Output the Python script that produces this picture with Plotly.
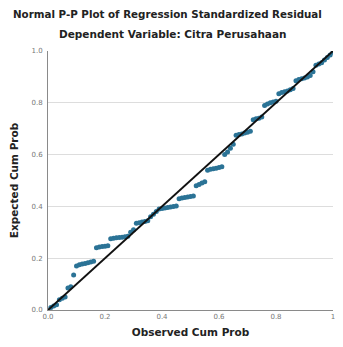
import plotly.graph_objects as go

observed = [0.01, 0.02, 0.03, 0.04, 0.05, 0.06, 0.07, 0.08, 0.09, 0.10,
            0.11, 0.12, 0.13, 0.14, 0.15, 0.16, 0.17, 0.18, 0.19, 0.20,
            0.21, 0.22, 0.23, 0.24, 0.25, 0.26, 0.27, 0.28, 0.29, 0.30,
            0.31, 0.32, 0.33, 0.34, 0.35, 0.36, 0.37, 0.38, 0.39, 0.40,
            0.41, 0.42, 0.43, 0.44, 0.45, 0.46, 0.47, 0.48, 0.49, 0.50,
            0.51, 0.52, 0.53, 0.54, 0.55, 0.56, 0.57, 0.58, 0.59, 0.60,
            0.61, 0.62, 0.63, 0.64, 0.65, 0.66, 0.67, 0.68, 0.69, 0.70,
            0.71, 0.72, 0.73, 0.74, 0.75, 0.76, 0.77, 0.78, 0.79, 0.80,
            0.81, 0.82, 0.83, 0.84, 0.85, 0.86, 0.87, 0.88, 0.89, 0.90,
            0.91, 0.92, 0.93, 0.94, 0.95, 0.96, 0.97, 0.98, 0.99, 1.00]
expected = [0.010, 0.015, 0.020, 0.040, 0.045, 0.050, 0.085, 0.090, 0.135, 0.170,
            0.175, 0.178, 0.180, 0.182, 0.185, 0.188, 0.240, 0.243, 0.245, 0.246,
            0.248, 0.275, 0.277, 0.279, 0.280, 0.281, 0.283, 0.285, 0.300, 0.310,
            0.335, 0.337, 0.340, 0.342, 0.345, 0.360, 0.370, 0.380, 0.390, 0.392,
            0.394, 0.396, 0.398, 0.400, 0.402, 0.430, 0.432, 0.434, 0.436, 0.438,
            0.440, 0.480, 0.485, 0.490, 0.495, 0.540, 0.543, 0.545, 0.547, 0.550,
            0.553, 0.600, 0.610, 0.625, 0.640, 0.675, 0.678, 0.680, 0.683, 0.686,
            0.690, 0.735, 0.738, 0.740, 0.745, 0.790, 0.795, 0.800, 0.803, 0.806,
            0.835, 0.840, 0.843, 0.846, 0.850, 0.855, 0.885, 0.890, 0.893, 0.896,
            0.900, 0.905, 0.920, 0.945, 0.950, 0.955, 0.965, 0.975, 0.985, 0.995]
ref_line = [0.0, 1.0]
x_ticks = [0.0, 0.2, 0.4, 0.6, 0.8, 1.0]
x_tick_labels = ["0.0", "0.2", "0.4", "0.6", "0.8", "1"]
y_ticks = [0.0, 0.2, 0.4, 0.6, 0.8, 1.0]
y_tick_labels = ["0.0", "0.2", "0.4", "0.6", "0.8", "1.0"]

FONT = "DejaVu Sans, Arial, sans-serif"

fig = go.Figure()
fig.add_trace(go.Scatter(x=observed, y=expected, mode="markers",
                         marker=dict(size=5, color="#2b7396"),
                         showlegend=False))
fig.add_trace(go.Scatter(x=ref_line, y=ref_line, mode="lines",
                         line=dict(color="#111111", width=2),
                         showlegend=False))

# page has an 8px body margin, so the figure is drawn smaller and shifted
fig.update_layout(
    width=327, height=331,
    margin=dict(l=40, r=0, t=43, b=29),
    paper_bgcolor="white", plot_bgcolor="white",
    font=dict(family=FONT, color="#222222"),
)
fig.add_annotation(text="<b>Normal P-P Plot of Regression Standardized Residual</b>",
                   xref="paper", yref="paper", x=0.42, y=1.0, yshift=37,
                   showarrow=False, font=dict(size=10.3, color="#222222", family=FONT),
                   xanchor="center", yanchor="middle")
fig.add_annotation(text="<b>Dependent Variable: Citra Perusahaan</b>",
                   xref="paper", yref="paper", x=0.44, y=1.0, yshift=17,
                   showarrow=False, font=dict(size=10.5, color="#222222", family=FONT),
                   xanchor="center", yanchor="middle")

fig.update_xaxes(range=[0, 1.0], tickvals=x_ticks, ticktext=x_tick_labels,
                 showgrid=False, zeroline=False, showline=True,
                 linecolor="#8a8a8a", linewidth=1, ticks="", ticklen=0,
                 ticklabeloverflow="allow",
                 tickfont=dict(size=7, color="#777777"),
                 title=dict(text="<b>Observed Cum Prob</b>",
                            font=dict(size=10.5, color="#222222"), standoff=8))
fig.update_yaxes(range=[0, 1.0], tickvals=y_ticks, ticktext=y_tick_labels,
                 showgrid=True, gridcolor="#dddddd", gridwidth=1,
                 zeroline=False, showline=True,
                 linecolor="#8a8a8a", linewidth=1, ticks="", ticklen=0,
                 tickfont=dict(size=7, color="#777777"), ticklabelstandoff=3,
                 title=dict(text="<b>Expected Cum Prob</b>",
                            font=dict(size=10.5, color="#222222"), standoff=10))

fig.write_html("out.html")
